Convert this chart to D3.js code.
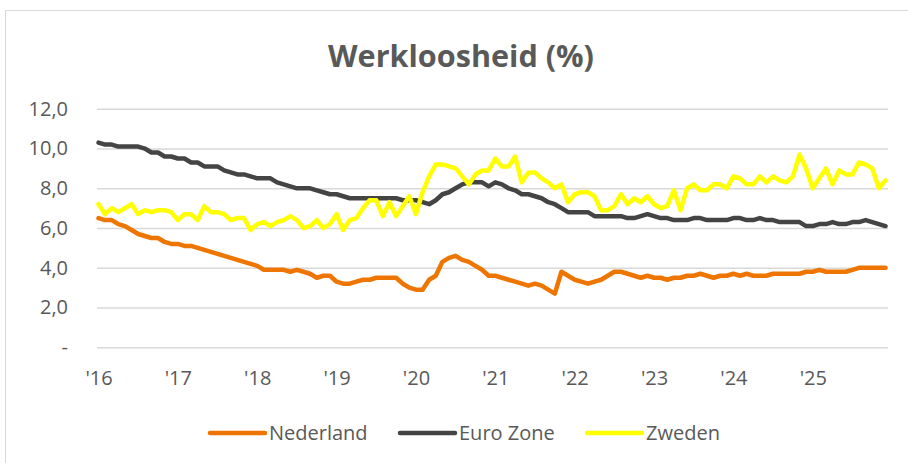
<!DOCTYPE html>
<html>
<head>
<meta charset="utf-8">
<script src="https://cdn.jsdelivr.net/npm/d3@7"></script>
<style>
    html, body { margin: 0; padding: 0; background: #fff; }
    svg { display: block; font-family: 'Open Sans', sans-serif; }
</style>
</head>
<body>
<div id="chart"></div>
<script>
// maandcijfers jan 2016 t/m dec 2025
var startYear = 2016;
var yearLabels = ["'16", "'17", "'18", "'19", "'20", "'21", "'22", "'23", "'24", "'25"];
var seriesNames = ['Nederland', 'Euro Zone', 'Zweden'];
var seriesColors = ['#ee7600', '#444444', '#ffff00'];
var yTicks = [0, 2, 4, 6, 8, 10, 12];

var nederland = [
    6.5, 6.4, 6.4, 6.2, 6.1, 5.9, 5.7, 5.6, 5.5, 5.5, 5.3, 5.2,
    5.2, 5.1, 5.1, 5.0, 4.9, 4.8, 4.7, 4.6, 4.5, 4.4, 4.3, 4.2,
    4.1, 3.9, 3.9, 3.9, 3.9, 3.8, 3.9, 3.8, 3.7, 3.5, 3.6, 3.6,
    3.3, 3.2, 3.2, 3.3, 3.4, 3.4, 3.5, 3.5, 3.5, 3.5, 3.2, 3.0,
    2.9, 2.9, 3.4, 3.6, 4.3, 4.5, 4.6, 4.4, 4.3, 4.1, 3.9, 3.6,
    3.6, 3.5, 3.4, 3.3, 3.2, 3.1, 3.2, 3.1, 2.9, 2.7, 3.8, 3.6,
    3.4, 3.3, 3.2, 3.3, 3.4, 3.6, 3.8, 3.8, 3.7, 3.6, 3.5, 3.6,
    3.5, 3.5, 3.4, 3.5, 3.5, 3.6, 3.6, 3.7, 3.6, 3.5, 3.6, 3.6,
    3.7, 3.6, 3.7, 3.6, 3.6, 3.6, 3.7, 3.7, 3.7, 3.7, 3.7, 3.8,
    3.8, 3.9, 3.8, 3.8, 3.8, 3.8, 3.9, 4.0, 4.0, 4.0, 4.0, 4.0
];

var euroZone = [
    10.3, 10.2, 10.2, 10.1, 10.1, 10.1, 10.1, 10.0, 9.8, 9.8, 9.6, 9.6,
    9.5, 9.5, 9.3, 9.3, 9.1, 9.1, 9.1, 8.9, 8.8, 8.7, 8.7, 8.6,
    8.5, 8.5, 8.5, 8.3, 8.2, 8.1, 8.0, 8.0, 8.0, 7.9, 7.8, 7.7,
    7.7, 7.6, 7.5, 7.5, 7.5, 7.5, 7.5, 7.5, 7.5, 7.5, 7.4, 7.4,
    7.4, 7.3, 7.2, 7.4, 7.7, 7.8, 8.0, 8.2, 8.3, 8.3, 8.3, 8.1,
    8.3, 8.2, 8.0, 7.9, 7.7, 7.7, 7.6, 7.5, 7.3, 7.2, 7.0, 6.8,
    6.8, 6.8, 6.8, 6.6, 6.6, 6.6, 6.6, 6.6, 6.5, 6.5, 6.6, 6.7,
    6.6, 6.5, 6.5, 6.4, 6.4, 6.4, 6.5, 6.5, 6.4, 6.4, 6.4, 6.4,
    6.5, 6.5, 6.4, 6.4, 6.5, 6.4, 6.4, 6.3, 6.3, 6.3, 6.3, 6.1,
    6.1, 6.2, 6.2, 6.3, 6.2, 6.2, 6.3, 6.3, 6.4, 6.3, 6.2, 6.1
];

var zweden = [
    7.2, 6.7, 7.0, 6.8, 7.0, 7.2, 6.7, 6.9, 6.8, 6.9, 6.9, 6.8,
    6.4, 6.7, 6.7, 6.4, 7.1, 6.8, 6.8, 6.7, 6.4, 6.5, 6.5, 5.9,
    6.2, 6.3, 6.1, 6.3, 6.4, 6.6, 6.4, 6.0, 6.1, 6.4, 6.0, 6.2,
    6.7, 5.9, 6.4, 6.5, 7.0, 7.4, 7.4, 6.6, 7.3, 6.6, 7.1, 7.6,
    6.7, 7.8, 8.6, 9.2, 9.2, 9.1, 9.0, 8.6, 8.2, 8.7, 8.9, 8.9,
    9.5, 9.1, 9.1, 9.6, 8.3, 8.8, 8.8, 8.5, 8.3, 8.0, 8.2, 7.3,
    7.7, 7.8, 7.8, 7.6, 6.9, 6.9, 7.1, 7.7, 7.2, 7.5, 7.3, 7.6,
    7.2, 7.0, 7.1, 7.9, 6.9, 8.0, 8.2, 7.9, 7.9, 8.2, 8.2, 8.0,
    8.6, 8.5, 8.2, 8.2, 8.6, 8.3, 8.6, 8.4, 8.3, 8.6, 9.7, 9.0,
    8.0, 8.5, 9.0, 8.2, 8.9, 8.7, 8.7, 9.3, 9.2, 9.0, 8.0, 8.4
];

var allSeries = [nederland, euroZone, zweden];

var width = 908,
    height = 463,
    plotLeft = 97,
    plotRight = 888,
    plotTop = 108.8,
    plotBottom = 347.3,
    textColor = '#595959';

var months = d3.range(nederland.length);

var x = d3.scalePoint()
    .domain(months)
    .range([98.5, 885.5]);

var y = d3.scaleLinear()
    .domain([0, 12])
    .range([plotBottom, plotTop]);

var svg = d3.select('#chart').append('svg')
    .attr('width', width)
    .attr('height', height);

// kader (rechts en onder vallen buiten beeld)
svg.append('rect')
    .attr('x', 5.5)
    .attr('y', 10.5)
    .attr('width', 930)
    .attr('height', 480)
    .attr('fill', 'none')
    .attr('stroke', '#d9d9d9')
    .attr('stroke-width', 1);

// titel, breedte passend gemaakt
var title = svg.append('text')
    .attr('x', 461)
    .attr('y', 67)
    .attr('text-anchor', 'middle')
    .attr('fill', textColor)
    .attr('font-weight', 'bold')
    .attr('font-size', 30)
    .text('Werkloosheid (%)');
var tw = title.node().getComputedTextLength();
title.attr('font-size', 30 * 266 / tw);

// y-as met rasterlijnen
var yAxis = svg.append('g')
    .attr('transform', 'translate(' + plotLeft + ',0)')
    .call(d3.axisLeft(y)
        .tickValues(yTicks)
        .tickSize(-(plotRight - plotLeft))
        .tickPadding(29)
        .tickFormat(function (d) { return d === 0 ? '-' : d.toFixed(1).replace('.', ','); }));
yAxis.select('.domain').remove();
yAxis.selectAll('.tick line').attr('stroke', '#d9d9d9').attr('stroke-width', 1.5);
yAxis.selectAll('.tick text')
    .attr('fill', textColor)
    .attr('font-size', 20)
    .attr('font-family', "'Open Sans', sans-serif");

// x-as
var xAxis = svg.append('g')
    .attr('transform', 'translate(0,' + plotBottom + ')')
    .call(d3.axisBottom(x)
        .tickValues(months.filter(function (m) { return m % 12 === 0; }))
        .tickSize(0)
        .tickPadding(24)
        .tickFormat(function (m) { return yearLabels[m / 12]; }));
xAxis.select('.domain').remove();
xAxis.selectAll('.tick text')
    .attr('fill', textColor)
    .attr('font-size', 20)
    .attr('font-family', "'Open Sans', sans-serif");

// lijnen
var line = d3.line()
    .x(function (d, i) { return x(i); })
    .y(function (d) { return y(d); });

svg.append('g').selectAll('path')
    .data(allSeries)
    .enter().append('path')
    .attr('d', line)
    .attr('fill', 'none')
    .attr('stroke', function (d, i) { return seriesColors[i]; })
    .attr('stroke-width', 4.5)
    .attr('stroke-linejoin', 'round')
    .attr('stroke-linecap', 'round');

// legenda
var legendX = [210, 400, 587];
var legend = svg.append('g').selectAll('g')
    .data(seriesNames)
    .enter().append('g')
    .attr('transform', function (d, i) { return 'translate(' + legendX[i] + ',433)'; });

legend.append('line')
    .attr('x1', 0)
    .attr('x2', 55)
    .attr('stroke', function (d, i) { return seriesColors[i]; })
    .attr('stroke-width', 4.5)
    .attr('stroke-linecap', 'round');

legend.append('text')
    .attr('x', 59)
    .attr('dy', '0.35em')
    .attr('fill', textColor)
    .attr('font-size', 20)
    .text(function (d) { return d; });
</script>
</body>
</html>
